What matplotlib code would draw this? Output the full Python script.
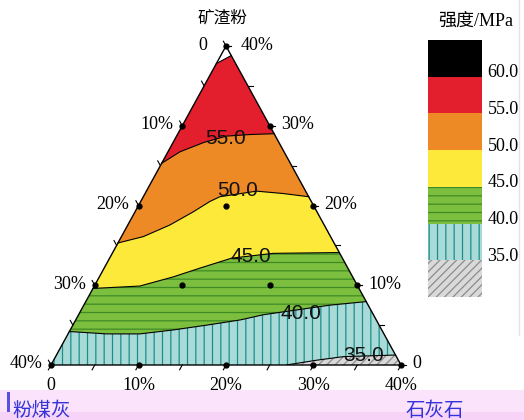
import numpy as np
import matplotlib
matplotlib.use('Agg')
import matplotlib.pyplot as plt
from matplotlib.transforms import offset_copy

plt.rcParams['hatch.linewidth'] = 0.9

serif = ['Liberation Serif', 'Noto Sans CJK SC']
cjk = ['Noto Sans CJK SC', 'DejaVu Sans']

# strength bands (MPa), lowest first
band_levels = [30.0, 35.0, 40.0, 45.0, 50.0, 55.0, 60.0]
band_colors = ['#d9d9d9', '#a8dbd7', '#7cbf3f', '#fce93a', '#ee8a25', '#e41f2d', '#000000']
band_hatch = ['////', '||', '--', None, None, None, None]
band_hatch_colors = ['#8c8c8c', '#1f8c8a', '#3e8a24', None, None, None, None]
legend_ticks = ['35.0', '40.0', '45.0', '50.0', '55.0', '60.0']

# contour lines: limestone %, slag %  (fly ash = 40 - both)
top_ls = [0.0, 1.2]
top_sl = [37.8, 38.8]
c55_ls = [0.0, 1.4, 3.5, 5.7, 8.3, 11.0]
c55_sl = [25.3, 26.75, 27.9, 28.7, 28.9, 29.0]
c50_ls = [0.0, 2.5, 4.8, 6.65, 7.9, 8.75, 12.6, 15.8, 18.9]
c50_sl = [15.3, 16.1, 17.55, 19.2, 20.5, 21.1, 21.8, 21.5, 21.1]
c45_ls = [0.0, 5.2, 8.45, 10.95, 13.95, 18.4, 25.9]
c45_sl = [9.6, 9.9, 11.05, 12.15, 13.4, 14.0, 14.1]
c40_ls = [0.0, 4.4, 8.2, 11.8, 15.3, 18.8, 21.1, 24.6, 28.1, 32.05]
c40_sl = [4.2, 3.9, 3.9, 4.4, 5.0, 5.65, 6.3, 6.9, 7.5, 7.95]
c35_ls = [26.9, 30.05, 32.9, 35.9, 38.75]
c35_sl = [0.0, 0.6, 1.05, 1.15, 1.25]

contour_labels = ['55.0', '50.0', '45.0', '40.0', '35.0']

# design points (limestone %, slag %)
pts_ls = [0, 10, 20, 30, 40, 0, 0, 0, 10, 20, 30, 0, 10, 10, 20]
pts_sl = [0, 0, 0, 0, 0, 10, 20, 30, 30, 20, 10, 40, 20, 10, 10]

axis_ticks = [0, 10, 20, 30, 40]
tick_text = ['0', '10%', '20%', '30%', '40%']


def tern(ls, sl):
    ls = np.asarray(ls, dtype=float)
    sl = np.asarray(sl, dtype=float)
    return ls + sl / 2.0, sl


def region(*parts):
    xs, ys = [], []
    for ls, sl in parts:
        x, y = tern(ls, sl)
        xs.extend(x)
        ys.extend(y)
    return xs, ys


fig = plt.figure(figsize=(5.24, 4.2), dpi=100)
ax = fig.add_axes([51 / 524, 55 / 420, 350 / 524, 319 / 420])
ax.set_xlim(0, 40)
ax.set_ylim(0, 40)
ax.axis('off')


def off(dx, dy):
    return offset_copy(ax.transData, fig=fig, x=dx, y=dy, units='dots')


# filled bands, index into band_* lists
fills = {
    0: region((c35_ls, c35_sl), ([40], [0])),
    1: region((c40_ls, c40_sl), (c35_ls[::-1], c35_sl[::-1]), ([0], [0])),
    2: region((c45_ls, c45_sl), (c40_ls[::-1], c40_sl[::-1])),
    3: region((c50_ls, c50_sl), (c45_ls[::-1], c45_sl[::-1])),
    4: region((c55_ls, c55_sl), (c50_ls[::-1], c50_sl[::-1])),
    5: region((top_ls, top_sl), (c55_ls[::-1], c55_sl[::-1])),
}
for i, (xs, ys) in fills.items():
    if band_hatch[i]:
        ax.fill(xs, ys, facecolor=band_colors[i], edgecolor=band_hatch_colors[i],
                hatch=band_hatch[i], linewidth=0, zorder=1)
    else:
        ax.fill(xs, ys, facecolor=band_colors[i], linewidth=0, zorder=1)

# contour lines
for ls, sl in [(top_ls, top_sl), (c55_ls, c55_sl), (c50_ls, c50_sl),
               (c45_ls, c45_sl), (c40_ls, c40_sl), (c35_ls, c35_sl)]:
    x, y = tern(ls, sl)
    ax.plot(x, y, color='black', lw=0.8, zorder=3)

# contour labels
label_pos = [(5.83, 28.34), (10.46, 21.82), (16.1, 13.6), (25.3, 6.5), (35.1, 1.25)]
for txt, (ls, sl) in zip(contour_labels, label_pos):
    x, y = tern(ls, sl)
    ax.text(x, y, txt, ha='center', va='center', fontsize=15,
            family='Liberation Sans', color='#111111', zorder=5)

# triangle frame
fx, fy = tern([0, 40, 0, 0], [0, 0, 40, 0])
ax.plot(fx, fy, color='black', lw=1.0, zorder=4, clip_on=False)

# edge ticks every 5 %
for v in range(0, 41, 5):
    # bottom (limestone), ticks lean down-left
    x, y = tern([v], [0])
    ax.plot([x[0], x[0] - 0.3], [0, -0.6], color='black', lw=0.8, clip_on=False, zorder=4)
    # right (slag), ticks to the right
    x, y = tern([40 - v], [v])
    ax.plot([x[0], x[0] + 0.55], [y[0], y[0]], color='black', lw=0.8, clip_on=False, zorder=4)
    # left (fly ash), ticks up-left
    x, y = tern([0], [40 - v])
    ax.plot([x[0], x[0] - 0.3], [y[0], y[0] + 0.6], color='black', lw=0.8, clip_on=False, zorder=4)

# design points
px, py = tern(pts_ls, pts_sl)
ax.plot(px, py, 'o', color='black', markersize=3.5, zorder=6, clip_on=False)

# axis labels
for v, t in zip(axis_ticks, tick_text):
    x, y = tern([v], [0])
    ax.text(x[0], y[0], t, transform=off(0, -20), ha='center', va='center',
            fontsize=13, family=serif, zorder=4)
    # fly ash along the left edge
    x, y = tern([0], [40 - v])
    dx = -19 if v == 0 else -9
    ax.text(x[0], y[0], t, transform=off(dx, 1), ha='right', va='center',
            fontsize=13, family=serif)
    # slag along the right edge
    x, y = tern([40 - v], [v])
    dx = 15 if v == 40 else 11
    ax.text(x[0], y[0], t, transform=off(dx, 1), ha='left', va='center',
            fontsize=13, family=serif)

fig.text(222 / 524, 1 - 18 / 420, '矿渣粉', ha='center', va='center',
         fontsize=12, family=cjk)

# legend bar
lax = fig.add_axes([428 / 524, (420 - 297) / 420, 54 / 524, 257 / 420])
lax.set_xlim(0, 1)
lax.set_ylim(band_levels[0], band_levels[-1] + 5)
lax.axis('off')
for i, lv in enumerate(band_levels):
    if band_hatch[i]:
        lax.bar(0.5, 5, bottom=lv, width=1, color=band_colors[i],
                edgecolor=band_hatch_colors[i], hatch=band_hatch[i], linewidth=0)
    else:
        lax.bar(0.5, 5, bottom=lv, width=1, color=band_colors[i], linewidth=0)
for t in legend_ticks:
    lax.text(1.1, float(t), t, ha='left', va='center', fontsize=13, family=serif,
             transform=offset_copy(lax.transData, fig=fig, x=0, y=4, units='dots'),
             clip_on=False)
fig.text(476 / 524, 1 - 21 / 420, '强度/MPa', ha='center', va='center',
         fontsize=13, family=serif)

# faint frame line at the right
fig.add_artist(plt.Line2D([519 / 524, 519 / 524], [1 - 335 / 420, 1.0],
                          color='#e4e4e4', lw=1))

# pink strip at the bottom with the two material names
fig.add_artist(plt.Rectangle((0, 0), 1, 30 / 420, transform=fig.transFigure,
                             facecolor='#fce3fc', edgecolor='none', zorder=10))
fig.add_artist(plt.Rectangle((0, 0), 1, 8 / 420, transform=fig.transFigure,
                             facecolor='#f8d3f8', edgecolor='none', zorder=10))
fig.add_artist(plt.Rectangle((7 / 524, 8 / 420), 3 / 524, 20 / 420,
                             transform=fig.transFigure, facecolor='#5a4fe0',
                             edgecolor='none', zorder=11))
fig.text(12 / 524, 1 - 410 / 420, '粉煤灰', ha='left', va='center', fontsize=14,
         family=cjk, color='#3434d8', zorder=12)
fig.text(435 / 524, 1 - 411 / 420, '石灰石', ha='center', va='center', fontsize=14,
         family=cjk, color='#3434d8', zorder=12)

fig.savefig('out.png', dpi=100)
